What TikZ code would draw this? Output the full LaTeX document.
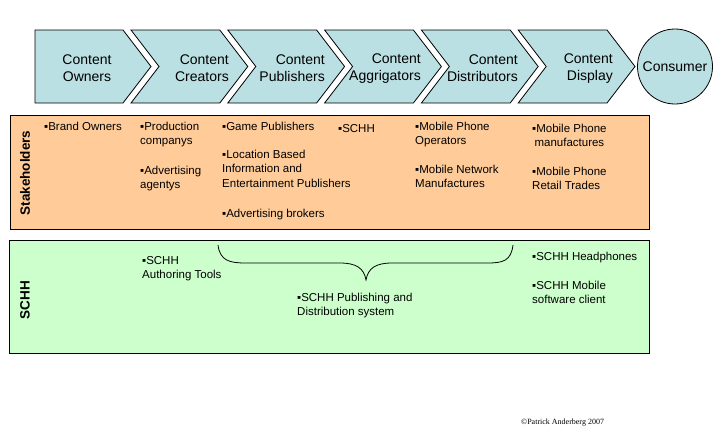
\documentclass[tikz,border=0pt]{standalone}
\usepackage{fontspec}
\setmainfont{Liberation Sans}
\newfontfamily\cpyfont{Liberation Serif}
\definecolor{chevfill}{HTML}{BBE0E3}
\definecolor{stakefill}{HTML}{FFCC99}
\definecolor{schhfill}{HTML}{CCFFCC}
\begin{document}
\begin{tikzpicture}[x=1bp,y=-1bp,
  chevshape/.style={draw=black,line width=0.8bp,fill=chevfill,line join=miter},
  chevtext/.style={inner sep=0pt,align=right,anchor=east,font=\fontsize{14bp}{17bp}\selectfont},
  rowbox/.style={draw=black,line width=0.8bp},
  rowlabel/.style={inner sep=0pt,rotate=90,font=\fontsize{13.5bp}{16bp}\selectfont\bfseries},
  item/.style={inner sep=0pt,align=left,anchor=base west,font=\fontsize{11.5bp}{14.6bp}\selectfont},
  bracepath/.style={draw=black,line width=0.8bp}]
\useasboundingbox (0,0) rectangle (720,432);

% chevrons
\draw[chevshape] (35,30) -- (123,30) -- (151,66.5) -- (123,103) -- (35,103) -- cycle;
\foreach \l/\r in {131/219.8,227.8/316.6,324.6/413.4,421.4/510.2,518.2/607}{
  \draw[chevshape] (\l,30) -- (\r,30) -- (\r+28,66.5) -- (\r,103) -- (\l,103) -- (\l+28,66.5) -- cycle;
}
\node[chevtext,anchor=center,align=center] (owners) at (87,68.5) {Content\\Owners};
\node[chevtext] (creators) at (229,68.5) {Content\\Creators};
\node[chevtext] (publishers) at (325,68.5) {Content\\Publishers};
\node[chevtext] (aggrigators) at (421,68.5) {Content\\Aggrigators};
\node[chevtext] (distributors) at (518,68.5) {Content\\Distributors};
\node[chevtext] (display) at (613,68.5) {Content\\Display};
\node[circle,draw=black,line width=0.8bp,fill=chevfill,minimum size=75bp,inner sep=0pt,
  font=\fontsize{14bp}{17bp}\selectfont] (consumer) at (675,66.5) {Consumer};

% stakeholders row
\draw[rowbox,fill=stakefill] (10,115) rectangle (649,229);
\node[rowlabel] (stakelabel) at (25,173) {Stakeholders};
\node[item] (brand) at (44,130) {▪Brand Owners};
\node[item] (production) at (140,144.6) {▪Production\\companys};
\node[item] (advagent) at (140,188.6) {▪Advertising\\agentys};
\node[item] (game) at (222,130) {▪Game Publishers};
\node[item] (location) at (222,187.2) {▪Location Based\\Information and\\Entertainment Publishers};
\node[item] (advbrokers) at (222,217) {▪Advertising brokers};
\node[item] (schhstake) at (338,132) {▪SCHH};
\node[item] (operators) at (415,144.6) {▪Mobile Phone\\Operators};
\node[item] (network) at (415,187.6) {▪Mobile Network\\Manufactures};
\node[item,align=center] (manuf) at (532,146.6) {▪Mobile Phone\\manufactures};
\node[item] (retail) at (532,189.6) {▪Mobile Phone\\Retail Trades};

% SCHH row
\draw[rowbox,fill=schhfill] (9,240) rectangle (649,353);
\node[rowlabel] (schhlabel) at (25,300) {SCHH};
\node[item] (authoring) at (142,278.6) {▪SCHH\\Authoring Tools};
\node[item] (publishing) at (297,315.6) {▪SCHH Publishing and\\Distribution system};
\node[item] (headphones) at (532,260) {▪SCHH Headphones};
\node[item] (mobileclient) at (532,303.6) {▪SCHH Mobile\\software client};

% brace
\coordinate (braceL) at (218,245);
\coordinate (braceT) at (366,280);
\coordinate (braceR) at (513,245);
\draw[bracepath] (braceL) .. controls (220,261) and (230,263) .. (246,263)
  -- (340,263) .. controls (356,263) and (364,268) .. (braceT)
  .. controls (368,268) and (376,263) .. (392,263)
  -- (487,263) .. controls (503,263) and (511,261) .. (braceR);

% copyright
\node[inner sep=0pt,anchor=base west,font=\cpyfont\fontsize{8bp}{9.5bp}\selectfont] (copyright) at (521,424) {©Patrick Anderberg 2007};
\end{tikzpicture}
\end{document}
